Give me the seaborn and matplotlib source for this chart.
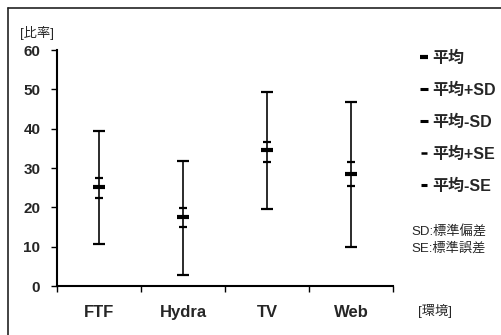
import matplotlib
matplotlib.use("Agg")
import matplotlib.pyplot as plt
from matplotlib.lines import Line2D
import seaborn as sns
import pandas as pd

categories = ["FTF", "Hydra", "TV", "Web"]
mean = [25.1, 17.5, 34.5, 28.6]
mean_plus_sd = [39.4, 31.9, 49.2, 46.8]
mean_minus_sd = [10.6, 2.8, 19.5, 9.9]
mean_plus_se = [27.5, 19.8, 36.7, 31.6]
mean_minus_se = [22.4, 15.0, 31.6, 25.3]
yticks = [0, 10, 20, 30, 40, 50, 60]
legend_labels = ["平均", "平均+SD", "平均-SD", "平均+SE", "平均-SE"]

df = pd.DataFrame({
    "env": categories,
    "mean": mean,
    "psd": mean_plus_sd,
    "msd": mean_minus_sd,
    "pse": mean_plus_se,
    "mse": mean_minus_se,
})

sns.set_theme(style="white")
plt.rcParams["font.family"] = ["Liberation Sans", "Noto Sans CJK JP", "DejaVu Sans"]

fig = plt.figure(figsize=(5.01, 3.35), dpi=100)
ax = fig.add_axes([57 / 501, 1 - 286 / 335, (393 - 57) / 501, (286 - 50) / 335])

xs = list(range(len(categories)))
ax.vlines(xs, df["msd"], df["psd"], color="#1a1a1a", linewidth=1.3, zorder=2)

def mk(col, size, ew):
    sns.lineplot(x=xs, y=df[col], ax=ax, linestyle="none", marker="_",
                 markersize=size, markeredgewidth=ew, color="black",
                 markeredgecolor="black", zorder=3, legend=False)

mk("psd", 8, 1.6)
mk("msd", 8, 1.6)
mk("pse", 6, 1.6)
mk("mse", 6, 1.6)
mk("mean", 8, 3.0)

ax.set_xlim(-0.5, 3.5)
ax.set_ylim(0, 60)
ax.set_yticks(yticks)
ax.set_yticklabels([str(v) for v in yticks], fontsize=11, fontweight="bold")
ax.set_xticks([-0.5, 0.5, 1.5, 2.5, 3.5])
ax.set_xticklabels([])
ax.set_xticks(xs, minor=True)
ax.set_xticklabels(categories, minor=True, fontsize=12, fontweight="bold")
ax.tick_params(axis="x", which="major", direction="out", length=4, width=1, color="black", bottom=True)
ax.tick_params(axis="x", which="minor", length=0, pad=14)
ax.tick_params(axis="y", direction="out", length=4, width=1, color="black", left=True, pad=8)
for s in ["top", "right"]:
    ax.spines[s].set_visible(False)
for s in ["left", "bottom"]:
    ax.spines[s].set_color("black")
    ax.spines[s].set_linewidth(1.5)
ax.set_xlabel("")
ax.set_ylabel("")

handles = [
    Line2D([], [], linestyle="none", marker="_", markersize=6, markeredgewidth=3.0, color="black"),
    Line2D([], [], linestyle="none", marker="_", markersize=6, markeredgewidth=2.2, color="black"),
    Line2D([], [], linestyle="none", marker="_", markersize=6, markeredgewidth=2.2, color="black"),
    Line2D([], [], linestyle="none", marker="_", markersize=4, markeredgewidth=1.8, color="black"),
    Line2D([], [], linestyle="none", marker="_", markersize=4, markeredgewidth=2.2, color="black"),
]
leg = fig.legend(handles, legend_labels, loc="upper left", bbox_to_anchor=(405 / 501, 1 - 36 / 335),
                 frameon=False, labelspacing=1.05, handlelength=0.6, handletextpad=0.2,
                 prop={"family": ["Liberation Sans", "Noto Sans CJK JP"], "size": 11.5, "weight": "bold"})

cjk = ["Liberation Sans", "Noto Sans CJK JP"]
fig.text(20 / 501, 1 - 33 / 335, "[比率]", fontsize=9.5, family=cjk, va="center", ha="left")
fig.text(418 / 501, 1 - 311 / 335, "[環境]", fontsize=9.5, family=cjk, va="center", ha="left")
fig.text(411 / 501, 1 - 232 / 335, "SD:標準偏差", fontsize=9.5, family=cjk, va="center", ha="left")
fig.text(411 / 501, 1 - 248 / 335, "SE:標準誤差", fontsize=9.5, family=cjk, va="center", ha="left")

fig.add_artist(Line2D([8 / 501, 8 / 501], [0, 1 - 8 / 335], transform=fig.transFigure, color="#222222", linewidth=1.2))
fig.add_artist(Line2D([8 / 501, 1], [1 - 8 / 335, 1 - 8 / 335], transform=fig.transFigure, color="#222222", linewidth=1.2))

fig.savefig("out.png", dpi=100)
